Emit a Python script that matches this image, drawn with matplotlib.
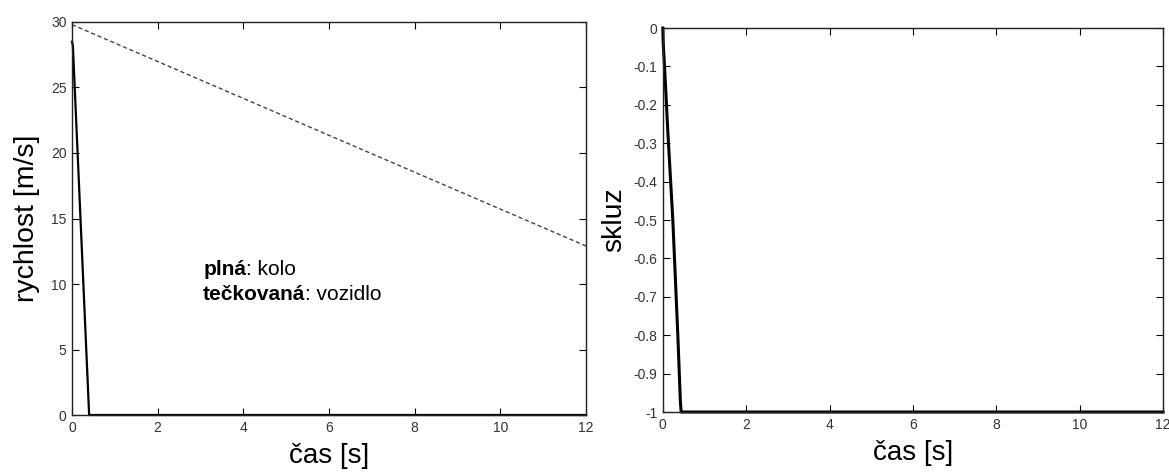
import matplotlib.pyplot as plt

plt.rcParams['font.family'] = ['Liberation Sans', 'DejaVu Sans']

# === Data ===
# rychlost kola (plna) a vozidla (teckovana)
t_kolo = [0, 0.02, 0.40, 12]
v_kolo = [28.5, 28.2, 0, 0]
t_vozidlo = [0, 12]
v_vozidlo = [29.8, 12.9]

# skluz
t_skluz = [0, 0.01, 0.03, 0.06, 0.12, 0.24, 0.36, 0.42, 0.44, 12]
s_skluz = [0, -0.04, -0.08, -0.14, -0.27, -0.5, -0.8, -0.97, -1.0, -1.0]

x_ticks = [0, 2, 4, 6, 8, 10, 12]
v_ticks = [0, 5, 10, 15, 20, 25, 30]
s_ticks = [0, -0.1, -0.2, -0.3, -0.4, -0.5, -0.6, -0.7, -0.8, -0.9, -1]
s_labels = ['0', '-0.1', '-0.2', '-0.3', '-0.4', '-0.5', '-0.6', '-0.7', '-0.8', '-0.9', '-1']

fig = plt.figure(figsize=(11.69, 4.75), dpi=100)
ax1 = fig.add_axes([0.0616, 0.1263, 0.4397, 0.8274])
ax2 = fig.add_axes([0.567, 0.1326, 0.4279, 0.8084])


def style(ax):
    ax.tick_params(direction='in', top=True, right=True, length=5, width=0.8,
                   labelsize=10, labelcolor='#333333', pad=4)
    for sp in ax.spines.values():
        sp.set_linewidth(1.0)
        sp.set_color('#222222')
    ax.set_xlim(0, 12)
    ax.set_xticks(x_ticks)
    ax.set_xlabel('čas [s]', fontsize=20, labelpad=6)


# === Left: rychlost ===
ax1.plot(t_vozidlo, v_vozidlo, color='#444444', lw=1.0, ls=(0, (3, 2)))
ax1.plot(t_kolo, v_kolo, color='black', lw=1.6, clip_on=False)
ax1.set_ylim(0, 30)
ax1.set_yticks(v_ticks)
style(ax1)
ax1.set_ylabel('rychlost [m/s]', fontsize=20.5, labelpad=8)

t1 = ax1.text(3.06, 10.7, 'plná', fontsize=15, fontweight='bold', va='baseline')
ax1.annotate(': kolo', xy=(1, 0), xycoords=t1, fontsize=15, va='bottom')
t2 = ax1.text(3.06, 8.8, 'tečkovaná', fontsize=15, fontweight='bold', va='baseline')
ax1.annotate(': vozidlo', xy=(1, 0), xycoords=t2, fontsize=15, va='bottom')

# === Right: skluz ===
ax2.plot(t_skluz, s_skluz, color='black', lw=2.2, clip_on=False)
ax2.set_ylim(-1, 0)
ax2.set_yticks(s_ticks)
ax2.set_yticklabels(s_labels)
style(ax2)
ax2.set_ylabel('skluz', fontsize=20.5, labelpad=4)

plt.savefig('out.png', dpi=100)
